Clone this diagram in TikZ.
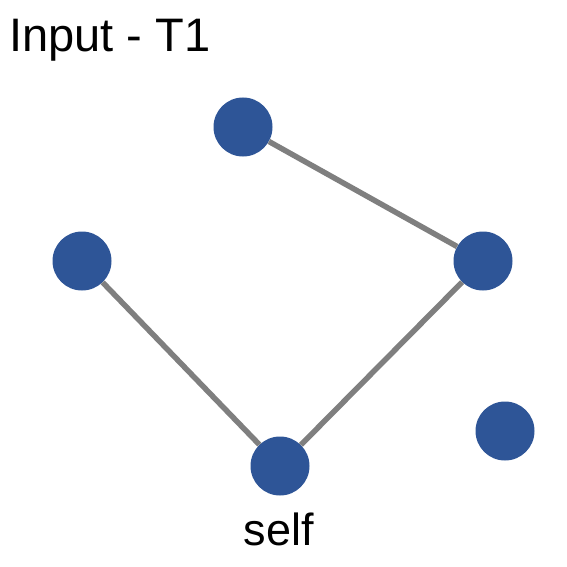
\documentclass[tikz,border=0pt]{standalone}
\usepackage{fontspec}
\setmainfont{Liberation Sans}
\usetikzlibrary{positioning}
\definecolor{nodeblue}{HTML}{2E5597}
\definecolor{edgegray}{HTML}{7F7F7F}
\tikzset{
	vertex/.style={circle, fill=nodeblue, minimum size=59pt, inner sep=0pt},
	edge/.style={draw=edgegray, line width=5.5pt},
	lbl/.style={inner sep=0pt, font=\fontsize{45}{54}\selectfont}
}
\begin{document}
\begin{tikzpicture}[x=1pt, y=-1pt]
\useasboundingbox (0,0) rectangle (567,567);
\node [lbl, anchor=base west, font=\fontsize{47}{56}\selectfont] (title) at (9,52) {Input - T1};
\node [vertex] (top) at (243,127) {};
\node [vertex] (left) at (82,261) {};
\node [vertex] (right) at (483,261) {};
\node [vertex] (self) at (280,466) {};
\node [vertex] (lone) at (505,431) {};
\node [lbl, anchor=base] (selflbl) at (279,545) {self};
% edges
\draw [edge] (top) -- (right);
\draw [edge] (right) -- (self);
\draw [edge] (left) -- (self);
\end{tikzpicture}
\end{document}
